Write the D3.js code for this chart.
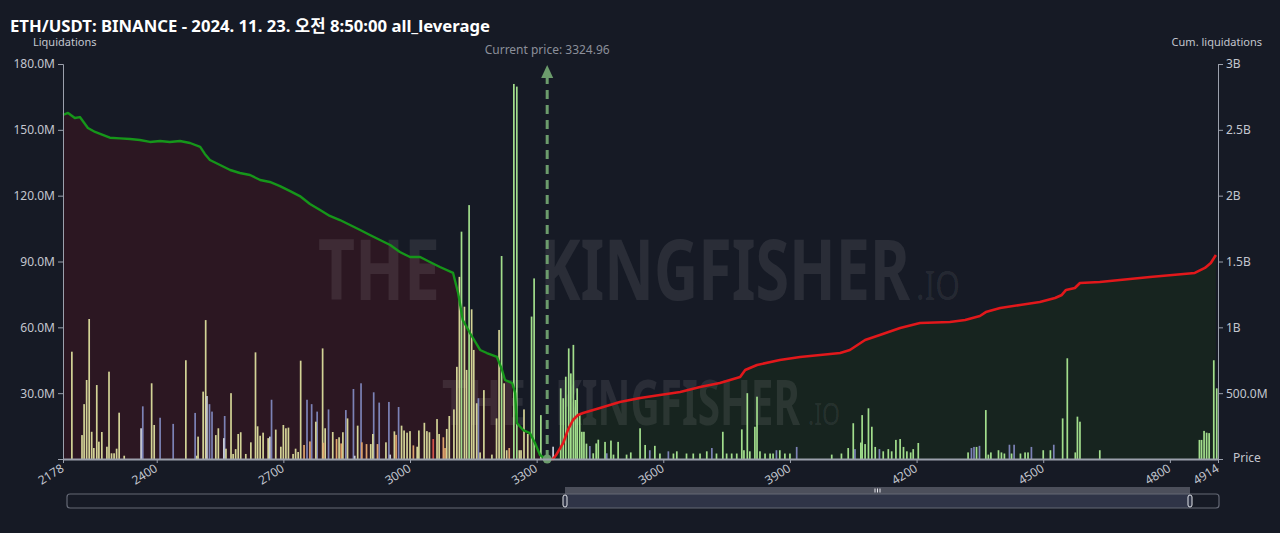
<!DOCTYPE html>
<html><head><meta charset="utf-8">
<script src="https://cdn.jsdelivr.net/npm/d3@7"></script>
<style>
body{margin:0;background:#161a25;overflow:hidden}
text{font-family:'Noto Sans','Noto Sans CJK KR',sans-serif}
</style></head>
<body><svg id="c" width="1280" height="533"></svg>
<script>
// ---- data ----
const title = "ETH/USDT: BINANCE - 2024. 11. 23. 오전 8:50:00 all_leverage";
const currentPrice = 3324.96;
const priceDomain = [2178, 4914];
const xTicks = [2178, 2400, 2700, 3000, 3300, 3600, 3900, 4200, 4500, 4800, 4914];
const leftTicks = [30, 60, 90, 120, 150, 180];           // M
const rightTicks = [0.5, 1, 1.5, 2, 2.5, 3];              // B

// liquidation bars: price, value (M), group
const barPrice = [
 2199,2223,2228,2234,2240,2246,2251,2258,2263,2270,2282,2287,2293,2299,2305,2311,2323,2363,2367,2388,
 2394,2408,2439,2469,2491,2495,2498,2510,2516,2519,2525,2531,2540,2546,2559,2561,2564,2576,2581,2587,
 2593,2599,2611,2623,2634,2639,2645,2652,2664,2668,2672,2682,2694,2700,2706,2712,2723,2729,2735,2741,
 2749,2756,2763,2767,2777,2780,2793,2795,2799,2807,2817,2826,2832,2837,2841,2848,2852,2866,2869,2876,
 2884,2886,2897,2907,2912,2914,2923,2927,2943,2950,2953,2963,2967,2973,2980,2986,2993,3000,3008,3017,
 3021,3034,3040,3046,3055,3064,3069,3079,3083,3087,3093,3104,3111,3117,3122,3129,3134,3140,3146,3151,
 3158,3162,3166,3175,3194,3205,3211,3217,3223,3229,3235,3246,3253,3259,3263,3270,3279,3288,3294,3310,
 3339,
 3357,3363,3369,3376,3381,3387,3392,3396,3402,3407,3412,3418,3426,3434,3441,3446,3462,3466,3476,3482,
 3493,3513,3523,3545,3557,3568,3580,3592,3612,3624,3632,3655,3671,3687,3703,3715,3726,3741,3750,3762,
 3774,3786,3791,3799,3805,3817,3822,3829,3841,3853,3860,3868,3876,3888,3900,3916,3999,4022,4038,4050,
 4054,4068,4071,4078,4086,4094,4102,4112,4121,4133,4141,4151,4161,4169,4177,4186,4192,4204,4322,4330,
 4336,4342,4349,4364,4370,4376,4394,4401,4408,4420,4425,4431,4446,4457,4464,4472,4500,4517,4525,4546,
 4557,4576,4581,4587,4634,4870,4875,4881,4887,4893,4904,4911
];
const barValue = [
 48.9,10.9,25,36,63.8,12.4,5,33.7,7.9,12.3,5.6,39.8,2.6,2.6,4.7,21.1,1.5,14,24,34.5,
 15.5,18.8,16,45,21,1.5,10.2,30.7,63.3,28.7,25,21.6,10.9,14,9.5,19.6,4.7,30,2.3,4.5,
 11.4,12.2,2.3,7.6,48.6,14.9,10.6,12,9.5,10.2,27,13.4,5.6,15.5,14,14.3,2.3,4.7,3.2,44.8,
 6.4,27,8,25,17,21.6,50.4,7.4,14,22.6,12.3,9.1,9.9,7.1,12.2,22.3,18.5,31.9,1.5,15.2,
 34.5,7.6,6.8,6.8,11.4,30.4,6.8,25.7,7.6,26,2,12.6,11,23.7,15.2,13,12,12.7,6.2,5.6,
 13,16.5,12.7,12.2,9.1,18.2,11.4,9.9,5,13.7,19.6,22.6,42,83,103.6,69.4,40.6,115.7,68.2,49.7,
 25.4,27.7,3,31.4,2,18.5,58.8,92.5,34.5,4,5,170.9,169.7,4,4,22.6,11.4,64.9,82.3,20,
 5.6,
 32.2,27.7,37.5,50.4,39,52,26.9,32.2,20,12.4,12.4,7,5.9,2.6,7.1,8.8,7.8,2.6,8.4,2,
 7.8,2,3,14,6.4,4,6,2.5,3.5,2.5,3.5,2.5,2.5,2.5,3.5,5,2.5,12.4,2.5,2.5,
 2.5,13.5,4,30,3.5,14.7,28.4,3.5,2.5,2.5,2.5,4,4,2.5,2.5,5.5,2,2.5,5,16.3,
 4.5,7.5,20,6.8,23.1,14.7,5.5,4.5,3.5,4.5,3.5,8.7,9.1,5.5,3.5,3,4.5,7.3,3,5,
 5.5,5.5,6,22.3,2,3,4,3,2.5,6.5,2.5,6.5,2.5,3,3,5.5,4,4,6.5,18.5,
 45.9,3,19.3,17,4,8.7,8.7,12.8,12,11.8,45,32.2
];
const barGroup = (
 "YYYYYYYYYYYYYYYYYWBY" +
 "YBBYBYYYYWBBYYWBYYYY" +
 "YYYYYYYYYWBYYYYYYYYY" +
 "OBOBYBYOYBYOYOYBYBWY" +
 "BOOYYBOBYBWYOBYYYYOY" +
 "YYYYRYYOOYYYYYGYYGYY" +
 "YBYYYYYGYYOGGYYYYGGG" +
 "W" +
 "GGGGGGGGGGGGBGGGGBGG" +
 "GGGGGBGGBGGGGGGBGGGG" +
 "GGGGGGGGGGGBGGGBGGGG" +
 "BGGGGGGBGGGGGGGGGGGB" +
 "BGBGGGGGGBGBGGGBGGBG" +
 "GGGGGGGGGGGG").split("");
const groupColor = {Y:"#d3d396", B:"#7c82b6", O:"#dfa36c", R:"#d2524a", W:"#c9cdd8", G:"#a2de8c"};

// cumulative long liquidations (B), below current price
const longCumPrice = [2178,2190,2206,2218,2237,2254,2266,2289,2313,2337,2360,2384,2408,2431,2455,2479,2503,2514,2526,2550,
 2574,2597,2621,2645,2668,2692,2716,2739,2763,2787,2810,2834,2858,2882,2905,2929,2953,2976,3000,3024,
 3047,3071,3102,3114,3125,3142,3166,3182,3206,3218,3225,3242,3249,3253,3268,3284,3296,3308,3322];
const longCumValue = [2.613,2.628,2.590,2.597,2.514,2.484,2.470,2.440,2.435,2.430,2.423,2.408,2.415,2.408,2.415,2.400,2.370,2.317,2.271,2.233,
 2.195,2.172,2.157,2.119,2.104,2.073,2.035,1.997,1.937,1.891,1.846,1.815,1.777,1.739,1.701,1.663,1.625,1.572,1.534,1.534,
 1.496,1.458,1.413,1.261,1.056,0.957,0.828,0.805,0.775,0.676,0.600,0.577,0.501,0.273,0.220,0.197,0.122,0.030,0];
// cumulative short liquidations (B), above current price
const shortCumPrice = [3322,3339,3346,3363,3374,3386,3398,3410,3450,3497,3545,3592,3640,3687,3734,3782,3794,3822,3876,3924,
 4019,4042,4078,4113,4161,4208,4279,4315,4350,4364,4398,4445,4492,4528,4544,4554,4575,4587,4634,4753,
 4859,4883,4897,4909];
const shortCumValue = [0,0,0.030,0.122,0.220,0.296,0.334,0.349,0.387,0.433,0.463,0.486,0.509,0.547,0.577,0.623,0.676,0.714,0.752,0.775,
 0.805,0.828,0.904,0.942,0.995,1.033,1.041,1.056,1.086,1.116,1.147,1.170,1.192,1.223,1.246,1.284,1.299,1.337,1.344,1.382,
 1.413,1.451,1.489,1.549];

// ---- layout ----
const svg = d3.select("#c");
const W = 1280, H = 533;
const plot = {l:63, r:1218, t:64, b:459};
const x = d3.scaleLinear().domain(priceDomain).range([plot.l, plot.r]);
const yL = d3.scaleLinear().domain([0,180]).range([plot.b, plot.t]);
const yR = d3.scaleLinear().domain([0,3]).range([plot.b, plot.t]);
const axisCol = "#9ba0ac", labelCol = "#c3c6cf";

svg.append("rect").attr("width",W).attr("height",H).attr("fill","#161a25");

// areas
const longPts = longCumPrice.map((p,i)=>[p,longCumValue[i]]);
const shortPts = shortCumPrice.map((p,i)=>[p,shortCumValue[i]]);
const area = d3.area().x(d=>x(d[0])).y0(plot.b).y1(d=>yR(d[1]));
svg.append("path").datum(longPts).attr("d",area).attr("fill","#2c1722");
svg.append("path").datum(shortPts).attr("d",area).attr("fill","#17241f");

// watermark
const wm = svg.append("g").attr("fill","#ffffff").attr("fill-opacity",0.085)
  .style("font-family","'Liberation Sans Narrow','DejaVu Sans Condensed','Roboto',sans-serif").style("font-weight","bold");
wm.append("text").attr("x",318).attr("y",300).attr("font-size",84).attr("textLength",122).attr("lengthAdjust","spacingAndGlyphs").text("THE");
wm.append("text").attr("x",540).attr("y",300).attr("font-size",84).attr("textLength",370).attr("lengthAdjust","spacingAndGlyphs").text("KINGFISHER");
wm.append("text").attr("x",916).attr("y",300).attr("font-size",40).attr("font-weight","normal").attr("textLength",44).attr("lengthAdjust","spacingAndGlyphs").text(".IO");
wm.append("text").attr("x",442).attr("y",425).attr("font-size",62).attr("textLength",84).attr("lengthAdjust","spacingAndGlyphs").text("THE");
wm.append("text").attr("x",555).attr("y",425).attr("font-size",62).attr("textLength",245).attr("lengthAdjust","spacingAndGlyphs").text("KINGFISHER");
wm.append("text").attr("x",808).attr("y",425).attr("font-size",30).attr("font-weight","normal").attr("textLength",32).attr("lengthAdjust","spacingAndGlyphs").text(".IO");

// bars
const bars = barPrice.map((p,i)=>({p, v:barValue[i], g:barGroup[i]})).sort((a,b)=>b.v-a.v);
const bw = 1.7;
svg.append("g").selectAll("rect").data(bars).join("rect")
  .attr("x",d=>x(d.p)-bw/2).attr("width",bw)
  .attr("y",d=>yL(d.v)).attr("height",d=>plot.b-yL(d.v))
  .attr("fill",d=>groupColor[d.g]);

// lines
const line = d3.line().x(d=>x(d[0])).y(d=>yR(d[1]));
svg.append("path").datum(longPts).attr("d",line).attr("fill","none").attr("stroke","#16961a").attr("stroke-width",2.4).attr("stroke-linejoin","round");
svg.append("path").datum(shortPts).attr("d",line).attr("fill","none").attr("stroke","#e2181b").attr("stroke-width",2.6).attr("stroke-linejoin","round");

// current price marker
const cx = x(currentPrice);
const arrowCol = "#6c9c6c";
svg.append("line").attr("x1",cx).attr("x2",cx).attr("y1",plot.b).attr("y2",plot.t+12)
  .attr("stroke",arrowCol).attr("stroke-width",3).attr("stroke-dasharray","9,6");
svg.append("path").attr("d",`M${cx},${plot.t+1} L${cx-6},${plot.t+14} L${cx+6},${plot.t+14} Z`).attr("fill",arrowCol);
svg.append("circle").attr("cx",cx).attr("cy",plot.b).attr("r",4.5).attr("fill",arrowCol);
svg.append("text").attr("x",cx).attr("y",54).attr("text-anchor","middle").attr("font-size",12).attr("fill","#8b8f9a")
  .text("Current price: " + currentPrice);

// axes
function styleAxis(g){
  g.selectAll("path,line").attr("stroke",axisCol);
  g.selectAll("text").attr("fill",labelCol).attr("font-size",12).style("font-family","'Noto Sans',sans-serif");
}
const gl = svg.append("g").attr("transform",`translate(${plot.l},0)`)
  .call(d3.axisLeft(yL).tickValues(leftTicks).tickFormat(d=>d.toFixed(1)+"M").tickSize(5).tickSizeOuter(5));
styleAxis(gl);
const gr = svg.append("g").attr("transform",`translate(${plot.r},0)`)
  .call(d3.axisRight(yR).tickValues(rightTicks).tickFormat(d=>d<1?(d*1000).toFixed(1)+"M":d+"B").tickSize(5).tickSizeOuter(5));
styleAxis(gr);
const gx = svg.append("g").attr("transform",`translate(0,${plot.b})`)
  .call(d3.axisBottom(x).tickValues(xTicks).tickFormat(d3.format("d")).tickSize(4).tickSizeOuter(0));
styleAxis(gx);
gx.select(".domain").attr("stroke-width",2);
gx.selectAll("text").attr("text-anchor","end").attr("x",0).attr("y",0).attr("dy","0.35em")
  .attr("transform","translate(-1,8) rotate(-32)");

// axis titles
svg.append("text").attr("x",33).attr("y",46).attr("font-size",11).attr("fill",labelCol).text("Liquidations");
svg.append("text").attr("x",1262).attr("y",46).attr("text-anchor","end").attr("font-size",11).attr("fill",labelCol).text("Cum. liquidations");
svg.append("text").attr("x",1233).attr("y",462).attr("font-size",12).attr("fill",labelCol).text("Price");

// title
svg.append("text").attr("x",10).attr("y",32).attr("font-size",16.5).attr("font-weight","bold").attr("fill","#ffffff")
  .attr("textLength",480).attr("lengthAdjust","spacingAndGlyphs").text(title);

// zoom slider
const sl = svg.append("g");
sl.append("rect").attr("x",565).attr("y",487).attr("width",625).attr("height",7).attr("fill","#4c4f5b");
sl.append("rect").attr("x",565).attr("y",494).attr("width",625).attr("height",14).attr("fill","#2f3447");
sl.append("rect").attr("x",67).attr("y",494).attr("width",1152).attr("height",14).attr("rx",3)
  .attr("fill","none").attr("stroke","#646875").attr("stroke-width",1.2);
[565,1190].forEach(hx=>{
  sl.append("rect").attr("x",hx-2).attr("y",495).attr("width",4).attr("height",12).attr("rx",2)
    .attr("fill","#2f3447").attr("stroke","#e0e2e8").attr("stroke-width",1);
});
[875,877.5,880].forEach(gx2=>sl.append("line").attr("x1",gx2).attr("x2",gx2).attr("y1",488.5).attr("y2",492.5).attr("stroke","#e8e8ee").attr("stroke-width",1));
</script></body></html>
